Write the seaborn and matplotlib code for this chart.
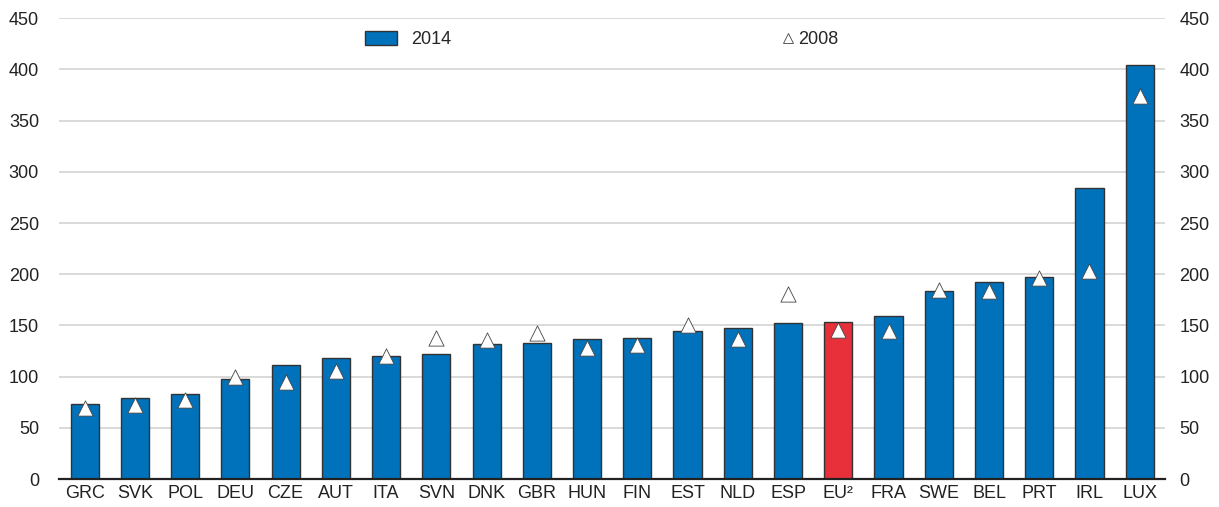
import matplotlib
matplotlib.use("Agg")
import matplotlib.pyplot as plt
import pandas as pd
import seaborn as sns
from matplotlib.patches import Patch
from matplotlib.lines import Line2D

countries = ["GRC", "SVK", "POL", "DEU", "CZE", "AUT", "ITA", "SVN", "DNK", "GBR", "HUN",
             "FIN", "EST", "NLD", "ESP", "EU²", "FRA", "SWE", "BEL", "PRT", "IRL", "LUX"]
val_2014 = [73, 79, 83, 98, 111, 118, 120, 122, 132, 133, 137,
            138, 145, 148, 152, 153, 159, 184, 192, 197, 284, 404]
val_2008 = [69, 72, 77, 100, 95, 106, 120, 138, 136, 143, 128,
            131, 150, 137, 181, 146, 145, 185, 184, 196, 203, 374]
group = ["EU" if c == "EU²" else "country" for c in countries]

df = pd.DataFrame({"country": countries, "y2014": val_2014, "y2008": val_2008, "group": group})

blue = "#0072BB"
red = "#E8303A"

sns.set_style("white")
plt.rcParams["font.family"] = ["Liberation Sans", "DejaVu Sans"]

fig = plt.figure(figsize=(12.19, 5.07), dpi=100)
ax = fig.add_axes([0.048, 0.055, 0.908, 0.909])

sns.barplot(data=df, x="country", y="y2014", hue="group",
            palette={"country": blue, "EU": red}, dodge=False, width=0.56,
            saturation=1, edgecolor="#333333", linewidth=1.0, legend=False,
            ax=ax, zorder=2)
sns.scatterplot(data=df, x="country", y="y2008", marker="^", s=120,
                color="white", edgecolor="#444444", linewidth=0.6, ax=ax, zorder=3,
                legend=False)

ax.set_ylim(0, 450)
ax.set_xlim(-0.52, len(countries) - 0.49)
ax.set_yticks(range(0, 451, 50))
ax.grid(axis="y", color="#d3d3d3", linewidth=1.2, zorder=0)
ax.set_axisbelow(True)
ax.set_xlabel("")
ax.set_ylabel("")
for s in ["top", "right", "left"]:
    ax.spines[s].set_visible(False)
ax.spines["bottom"].set_color("#222222")
ax.spines["bottom"].set_linewidth(1.6)
ax.tick_params(axis="both", length=0, labelsize=13, colors="#222222")
ax.tick_params(axis="y", pad=14)
ax.tick_params(axis="x", pad=4)

ax2 = ax.twinx()
ax2.set_ylim(0, 450)
ax2.set_yticks(range(0, 451, 50))
for s in ["top", "right", "left", "bottom"]:
    ax2.spines[s].set_visible(False)
ax2.tick_params(axis="y", length=0, labelsize=13, colors="#222222", pad=10)

h2014 = Patch(facecolor=blue, edgecolor="#333333", label="2014")
h2008 = Line2D([], [], marker="^", linestyle="none", markersize=7,
               markerfacecolor="white", markeredgecolor="#444444",
               markeredgewidth=0.6, label="2008")
leg1 = fig.legend(handles=[h2014], loc="center left", bbox_to_anchor=(0.2865, 0.922),
                  frameon=False, fontsize=13, handlelength=1.75, handleheight=0.85,
                  handletextpad=0.75)
leg2 = fig.legend(handles=[h2008], loc="center left", bbox_to_anchor=(0.627, 0.922),
                  frameon=False, fontsize=13, handlelength=0.8, handletextpad=0.15)

fig.savefig("out.png", dpi=100)
